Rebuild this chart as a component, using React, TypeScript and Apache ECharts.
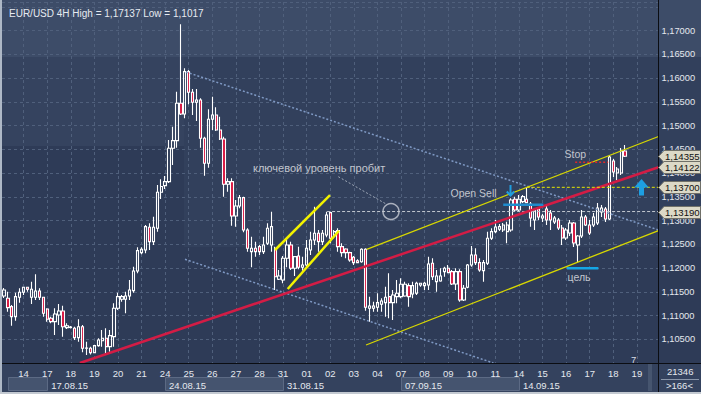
import { useEffect, useRef } from 'react';
import * as echarts from 'echarts';

// ---- 4H bars (EUR/USD) ----
const opens = [
  1.11412, 1.11364, 1.11187, 1.10976, 1.11385, 1.11490, 1.11595, 1.11385, 1.11385, 1.11517,
  1.11385, 1.11138, 1.10942, 1.10871, 1.11012, 1.11096, 1.10744, 1.10759, 1.10732, 1.10534,
  1.10765, 1.10311, 1.10311, 1.10218, 1.10365, 1.10470, 1.10521, 1.10344, 1.10555, 1.11153,
  1.11342, 1.11342, 1.11412, 1.11524, 1.11939, 1.12324, 1.12381, 1.12859, 1.12556, 1.12838,
  1.13596, 1.13735, 1.13819, 1.14523, 1.14683, 1.15470, 1.15245, 1.16136, 1.15702, 1.15492,
  1.15540, 1.14733, 1.14207, 1.15133, 1.15224, 1.14908, 1.14719, 1.13765, 1.13819, 1.13097,
  1.13307, 1.13482, 1.12802, 1.12345, 1.12417, 1.12450, 1.12345, 1.12522, 1.12486, 1.12417,
  1.11764, 1.11749, 1.12206, 1.12486, 1.11995, 1.12254, 1.12016, 1.12065, 1.12381, 1.12591,
  1.12733, 1.12556, 1.12697, 1.13166, 1.12697, 1.12787, 1.12450, 1.12402, 1.12324, 1.12227,
  1.12155, 1.12134, 1.12396, 1.11153, 1.11153, 1.11174, 1.11237, 1.11271, 1.11397, 1.11271,
  1.11397, 1.11397, 1.11412, 1.11629, 1.11454, 1.11469, 1.11644, 1.11629, 1.11644, 1.12101,
  1.11713, 1.11728, 1.11924, 1.11995, 1.11924, 1.11665, 1.11924, 1.11328, 1.11595, 1.12065,
  1.12275, 1.12113, 1.11945, 1.12101, 1.12627, 1.12766, 1.12817, 1.12802, 1.12766, 1.12802,
  1.13449, 1.13223, 1.13398, 1.13449, 1.13350, 1.13013, 1.13244, 1.13055, 1.13244, 1.13160,
  1.12970, 1.13013, 1.12844, 1.12634, 1.12739, 1.12949, 1.12486, 1.12676, 1.13076, 1.12907,
  1.12907, 1.12949, 1.13181, 1.13244, 1.13034, 1.14255, 1.14002, 1.14002, 1.14466,
];
const closes = [
  1.11538, 1.11166, 1.10976, 1.11397, 1.11490, 1.11595, 1.11553, 1.11553, 1.11517, 1.11385,
  1.11048, 1.10921, 1.10871, 1.11033, 1.11096, 1.10765, 1.10786, 1.10749, 1.10534, 1.10765,
  1.10311, 1.10317, 1.10218, 1.10365, 1.10485, 1.10521, 1.10344, 1.10576, 1.11153, 1.11397,
  1.11397, 1.11412, 1.11538, 1.11939, 1.12366, 1.12396, 1.12872, 1.12556, 1.12859, 1.13596,
  1.13718, 1.13819, 1.14523, 1.14683, 1.15470, 1.15245, 1.16136, 1.15702, 1.15492, 1.15540,
  1.14733, 1.14207, 1.15133, 1.15224, 1.14908, 1.14719, 1.13765, 1.13819, 1.13097, 1.13307,
  1.13482, 1.12802, 1.12417, 1.12417, 1.12345, 1.12345, 1.12486, 1.12838, 1.12872, 1.11818,
  1.11833, 1.12206, 1.12486, 1.11995, 1.12240, 1.12016, 1.12065, 1.12417, 1.12591, 1.12733,
  1.12556, 1.12733, 1.13118, 1.12627, 1.12766, 1.12450, 1.12324, 1.12324, 1.12170, 1.12113,
  1.12113, 1.12396, 1.11174, 1.11201, 1.11201, 1.11271, 1.11307, 1.11385, 1.11271, 1.11433,
  1.11469, 1.11658, 1.11658, 1.11397, 1.11629, 1.11679, 1.11679, 1.11679, 1.12086, 1.11818,
  1.11833, 1.11833, 1.11995, 1.11903, 1.11665, 1.11924, 1.11328, 1.11574, 1.12065, 1.12275,
  1.12113, 1.11960, 1.12113, 1.12627, 1.12766, 1.12865, 1.12872, 1.12907, 1.12907, 1.13434,
  1.13223, 1.13449, 1.13503, 1.13377, 1.13055, 1.13223, 1.13076, 1.13097, 1.13013, 1.13013,
  1.13055, 1.12844, 1.12634, 1.12802, 1.12949, 1.12528, 1.12676, 1.13076, 1.12907, 1.12739,
  1.13076, 1.13265, 1.13265, 1.13034, 1.14339, 1.14024, 1.14087, 1.14466, 1.14355,
];
const lows = [
  1.11370, 1.11081, 1.10786, 1.10892, 1.11271, 1.11433, 1.11503, 1.11244, 1.11328, 1.11328,
  1.10976, 1.10871, 1.10837, 1.10591, 1.10801, 1.10555, 1.10717, 1.10728, 1.10485, 1.10450,
  1.10226, 1.10170, 1.10180, 1.10205, 1.10344, 1.10344, 1.10185, 1.10239, 1.10344, 1.11117,
  1.11292, 1.11048, 1.11328, 1.11481, 1.11890, 1.12290, 1.12311, 1.12381, 1.12486, 1.12766,
  1.13455, 1.13666, 1.13792, 1.14171, 1.14535, 1.15224, 1.15155, 1.15449, 1.15224, 1.15098,
  1.14535, 1.13946, 1.14114, 1.14908, 1.14887, 1.14698, 1.13503, 1.13609, 1.12893, 1.12872,
  1.13259, 1.12754, 1.12345, 1.12016, 1.12240, 1.12275, 1.12297, 1.12486, 1.12345, 1.11538,
  1.11749, 1.11679, 1.12016, 1.11960, 1.11833, 1.11974, 1.11945, 1.12016, 1.12275, 1.12486,
  1.12345, 1.12486, 1.12648, 1.12522, 1.12627, 1.12345, 1.12240, 1.12206, 1.12134, 1.12065,
  1.12101, 1.12113, 1.11102, 1.10871, 1.11081, 1.11081, 1.11081, 1.10976, 1.10942, 1.10907,
  1.11258, 1.11364, 1.11397, 1.11187, 1.11364, 1.11433, 1.11608, 1.11538, 1.11538, 1.11749,
  1.11503, 1.11713, 1.11818, 1.11890, 1.11644, 1.11538, 1.11292, 1.11307, 1.11574, 1.12029,
  1.12065, 1.11924, 1.11713, 1.12065, 1.12591, 1.12733, 1.12781, 1.12760, 1.12522, 1.12766,
  1.13187, 1.13187, 1.13371, 1.13364, 1.12872, 1.12802, 1.13013, 1.12970, 1.12907, 1.12802,
  1.12928, 1.12802, 1.12486, 1.12591, 1.12676, 1.12444, 1.12128, 1.12634, 1.12886, 1.12697,
  1.12865, 1.12907, 1.13076, 1.12970, 1.13013, 1.13918, 1.13855, 1.13960, 1.14339,
];
const highs = [
  1.11580, 1.11503, 1.11222, 1.11481, 1.11574, 1.11608, 1.11608, 1.11713, 1.11869, 1.11574,
  1.11397, 1.11153, 1.10976, 1.11153, 1.11244, 1.11208, 1.10837, 1.10780, 1.10765, 1.10921,
  1.10801, 1.10450, 1.10344, 1.10380, 1.10521, 1.10696, 1.10732, 1.10696, 1.11258, 1.11481,
  1.11433, 1.11503, 1.11749, 1.12029, 1.12438, 1.12438, 1.12907, 1.12943, 1.13082, 1.13750,
  1.13870, 1.13939, 1.14698, 1.14978, 1.15715, 1.17137, 1.16208, 1.16172, 1.15772, 1.15772,
  1.15576, 1.14767, 1.15344, 1.15609, 1.15386, 1.15188, 1.14767, 1.13891, 1.13891, 1.13434,
  1.13539, 1.13503, 1.12838, 1.12661, 1.12556, 1.12486, 1.12661, 1.12943, 1.13187, 1.12450,
  1.11960, 1.12254, 1.12591, 1.12556, 1.12254, 1.12450, 1.12240, 1.12591, 1.12766, 1.13293,
  1.12802, 1.12802, 1.13187, 1.13187, 1.12802, 1.12838, 1.12522, 1.12417, 1.12345, 1.12254,
  1.12185, 1.12417, 1.12417, 1.11397, 1.11292, 1.11469, 1.11364, 1.11608, 1.11890, 1.11538,
  1.11749, 1.11785, 1.11713, 1.11679, 1.11713, 1.11713, 1.11692, 1.11713, 1.12240, 1.12206,
  1.11960, 1.11995, 1.12029, 1.12065, 1.11960, 1.11995, 1.11974, 1.11644, 1.12086, 1.12465,
  1.12417, 1.12206, 1.12170, 1.12766, 1.12838, 1.13013, 1.12928, 1.12949, 1.12977, 1.13470,
  1.13503, 1.13539, 1.13539, 1.13705, 1.13392, 1.13265, 1.13286, 1.13139, 1.13328, 1.13223,
  1.13097, 1.13055, 1.12907, 1.12844, 1.13013, 1.12970, 1.12697, 1.13223, 1.13118, 1.13013,
  1.13160, 1.13371, 1.13328, 1.13286, 1.14382, 1.14297, 1.14129, 1.14529, 1.14592,
];

// ---- axis labels ----
const dayLabels = ['14', '17', '18', '19', '20', '21', '24', '25', '26', '27', '28', '31', '01', '02',
  '03', '04', '07', '08', '09', '10', '11', '14', '15', '16', '17', '18', '19'];
const weekLabels = ['17.08.15', '24.08.15', '31.08.15', '07.09.15', '14.09.15'];
const weekDayIdx = [1, 6, 11, 16, 21];
const priceTags = [1.14355, 1.14122, 1.137, 1.1319];
const titleText = 'EUR/USD 4H High = 1,17137 Low = 1,1017';

// ---- drawn objects, [bar index, price] ----
const trendRed = [[19.3, 1.1], [166.5, 1.14122]];
const channelUpper = [[92.27, 1.12395], [166.5, 1.1477]];
const channelLower = [[92.1, 1.10379], [166.5, 1.1279]];
const flagUpper = [[68.95, 1.1238], [82.94, 1.13538]];
const flagLower = [[72.18, 1.11558], [85.23, 1.12786]];
const fanUpper = [[46.3, 1.16129], [166.5, 1.12801]];
const fanLower = [[46.05, 1.12184], [124.5, 1.1]];
const keyLevel = [[82.2, 1.1319], [166.5, 1.1319]];
const pointerLine = [[85.05, 1.13924], [97.2, 1.13349]];
const sellLevel = [[133, 1.137], [166.5, 1.137]];
const stopLevel = [[145.3, 1.14228], [153.7, 1.14228]];
const entryMark = [[127, 1.13335], [137.2, 1.13335]];
const targetMark = [[143.2, 1.11995], [151.2, 1.11995]];
const breakPoint = [98.45, 1.1319];

const SLOTS = 167;
const FIRST_DAY = 5;
const PER_DAY = 6;
const FONT = '"Liberation Sans", Arial, sans-serif';

export default function App() {
  const ref = useRef<HTMLDivElement>(null);
  useEffect(() => {
    const chart = echarts.init(ref.current!, null, { renderer: 'svg', width: 701, height: 394 });
    const catCount = SLOTS * 2 + 1;
    const cats = Array.from({ length: catCount }, (_, j) => 'c' + j);
    const dayCat = (d: number) => 2 * (FIRST_DAY + d * PER_DAY) + 1;
    const dayMap: Record<number, string> = {};
    dayLabels.forEach((l, d) => { dayMap[dayCat(d)] = l; });
    const weekMap: Record<number, string> = {};
    weekLabels.forEach((l, w) => { weekMap[dayCat(weekDayIdx[w]) + 2] = l; });

    const candles = opens.map((o, i) => [i, o, closes[i], lows[i], highs[i]]);
    const seg = (data: number[][], color: string, width: number, type: any = 'solid') => ({
      type: 'line', xAxisIndex: 0, yAxisIndex: 0, data, symbol: 'none', silent: true,
      lineStyle: { color, width, type }, clip: true,
    });

    const option: any = {
      animation: false,
      backgroundColor: '#2e3b57',
      title: {
        text: titleText, left: 4, top: 3,
        textStyle: { color: '#e6eaf0', fontSize: 10, fontWeight: 'normal', fontFamily: FONT },
      },
      grid: { left: 2, top: 2, width: 656.5, height: 361 },
      xAxis: [
        { type: 'value', min: -0.5, max: SLOTS - 0.5, show: false },
        {
          type: 'category', data: cats, boundaryGap: false, position: 'bottom',
          axisLine: { show: false }, axisTick: { show: false },
          axisLabel: {
            interval: (i: number) => dayMap[i] !== undefined,
            formatter: (_v: string, i: number) => dayMap[i] ?? '',
            color: '#e4e8ee', fontSize: 9.5, fontFamily: FONT, margin: 5,
          },
          splitLine: {
            show: true, interval: (i: number) => dayMap[i] !== undefined,
            lineStyle: { color: '#50607c', type: [3, 3], width: 1 },
          },
        },
        {
          type: 'category', data: cats, boundaryGap: false, position: 'bottom', offset: 13,
          axisLine: { show: false }, axisTick: { show: false },
          axisLabel: {
            interval: (i: number) => weekMap[i] !== undefined,
            formatter: (_v: string, i: number) => weekMap[i] ?? '',
            color: '#e4e8ee', fontSize: 9.5, fontFamily: FONT, margin: 4, align: 'left',
          },
          splitLine: { show: false },
        },
      ],
      yAxis: {
        type: 'value', position: 'right', min: 1.1, max: 1.17603, interval: 0.005,
        axisLine: { show: false }, axisTick: { show: false },
        axisLabel: {
          formatter: (v: number) => (v < 1.1001 || v > 1.1745 ? '' : v.toFixed(5).replace('.', ',')),
          color: '#e4e8ee', fontSize: 9.3, fontFamily: FONT, margin: 3, align: 'left',
        },
        splitLine: { lineStyle: { color: '#50607c', type: [3, 3], width: 1 } },
      },
      series: [
        {
          type: 'candlestick', xAxisIndex: 0, yAxisIndex: 0, data: candles, barWidth: 2.8, silent: true,
          itemStyle: {
            color: 'rgba(0,0,0,0)', color0: '#d8123e',
            borderColor: '#ffffff', borderColor0: '#ffffff', borderWidth: 1.1,
          },
        },
        seg(fanUpper, '#7f99c4', 1.5, [2, 2]),
        seg(fanLower, '#7f99c4', 1.5, [2, 2]),
        seg(keyLevel, '#c4c8d0', 1, [3, 2]),
        seg(pointerLine, '#a0a9b8', 1, [2, 2]),
        seg(channelUpper, '#d8d800', 1.3),
        seg(channelLower, '#d8d800', 1.3),
        seg(flagUpper, '#f2f200', 2.5),
        seg(flagLower, '#f2f200', 2.5),
        seg(trendRed, '#d31c45', 2.5),
        seg(sellLevel, '#e6e600', 1, [3, 2]),
        seg(stopLevel, '#e02828', 1.5, [2, 2]),
        seg(entryMark, '#1f8bcc', 2.5),
        seg(targetMark, '#14a6e6', 2.5),
        {
          type: 'scatter', xAxisIndex: 0, yAxisIndex: 0, data: [breakPoint], symbol: 'circle', symbolSize: 16,
          silent: true, itemStyle: { color: 'rgba(0,0,0,0)', borderColor: '#c8ccd6', borderWidth: 1.5 },
        },
      ],
    };
    chart.setOption(option);

    const px = (x: number, y: number) => chart.convertToPixel({ xAxisIndex: 0, yAxisIndex: 0 }, [x, y]) as number[];
    const g: any[] = [];
    const rect = (x: number, y: number, w: number, h: number, fill: string, z = -10, stroke?: string) =>
      g.push({ type: 'rect', z, silent: true, shape: { x, y, width: w, height: h }, style: { fill, stroke, lineWidth: stroke ? 1 : 0 } });
    const text = (t: string, x: number, y: number, fill: string, size: number, z = 50) =>
      g.push({ type: 'text', z, silent: true, x, y, style: { text: t, fill, fontSize: size, fontFamily: FONT, verticalAlign: 'middle', align: 'left' } });

    // background shading
    rect(0, 0, 701, 57, '#3d4c68');
    rect(0, 57, 184, 89, '#35435f');
    rect(184, 57, 517, 190, '#32405c');
    rect(0, 364, 701, 30, '#34425e');
    // week boxes in the date row
    const boxes = [[1, 11], [41, 71], [101, 131]];
    boxes.forEach(([a, b]) => {
      const x1 = px(a, 1.1)[0];
      const x2 = px(b, 1.1)[0];
      rect(Math.round(x1) + 0.5, 377.5, Math.round(x2 - x1), 13, '#45546f', -9, '#5c6a84');
    });
    rect(648, 364, 4, 27, '#46556f', -9);
    // frame lines
    g.push({ type: 'line', z: 40, silent: true, shape: { x1: 0, y1: 363.5, x2: 701, y2: 363.5 }, style: { stroke: '#0b0d12', lineWidth: 1 } });
    g.push({ type: 'line', z: 40, silent: true, shape: { x1: 658.5, y1: 0, x2: 658.5, y2: 394 }, style: { stroke: '#0b0d12', lineWidth: 1 } });
    g.push({ type: 'line', z: 40, silent: true, shape: { x1: 661, y1: 379.5, x2: 699, y2: 379.5 }, style: { stroke: '#8a96aa', lineWidth: 1 } });
    rect(0, 0, 2, 394, '#aeb8c6', 45);
    rect(0, 392, 701, 2, '#c3c9d1', 45);

    // annotation texts
    text('ключевой уровень пробит', 253, 168, '#c2c6ce', 11);
    text('Open Sell', 450.5, 193, '#c2c6ce', 10.5);
    text('Stop', 564.5, 153.5, '#c2c6ce', 10.5);
    text('цель', 567.5, 277, '#c2c6ce', 10.5);
    text('7', 631, 359, '#d8dce4', 9.5);
    text('21346', 667, 371, '#e4e8ee', 9.5);
    text('>166<', 666, 385.5, '#e4e8ee', 9.5);

    // arrows
    g.push({ type: 'polygon', z: 55, silent: true, shape: { points: [[641.5, 179], [648.8, 187.5], [644, 187.5], [644, 195.5], [639, 195.5], [639, 187.5], [634.2, 187.5]] }, style: { fill: '#1d9fe3' } });
    g.push({ type: 'polyline', z: 55, silent: true, shape: { points: [[510.5, 185], [510.5, 195.5]] }, style: { stroke: '#1e9ee0', lineWidth: 2, fill: 'none' } });
    g.push({ type: 'polyline', z: 55, silent: true, shape: { points: [[506.8, 191.5], [510.5, 195.5], [514.2, 191.5]] }, style: { stroke: '#1e9ee0', lineWidth: 2, fill: 'none' } });

    // price tags
    priceTags.forEach((p) => {
      const y = Math.round(px(0, p)[1]) + 0.5;
      g.push({ type: 'polygon', z: 60, silent: true, shape: { points: [[658.5, y], [664, y - 6], [700.5, y - 6], [700.5, y + 6], [664, y + 6]] }, style: { fill: '#dcd9c7', stroke: '#707068', lineWidth: 1 } });
      text(p.toFixed(5).replace('.', ','), 665, y, '#111111', 9.6, 61);
    });

    chart.setOption({ graphic: g });
    return () => chart.dispose();
  }, []);
  return <div ref={ref} style={{ position: 'fixed', left: 0, top: 0, width: 701, height: 394 }} />;
}
